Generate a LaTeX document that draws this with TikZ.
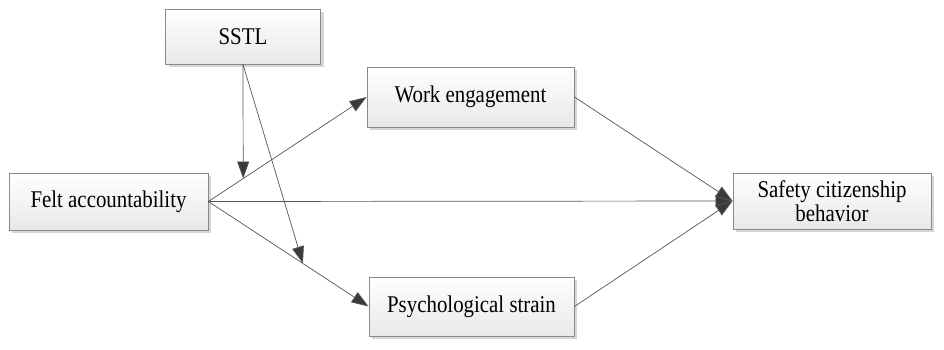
\documentclass[tikz,border=0pt]{standalone}
\usepackage{fontspec}
\setmainfont{Liberation Serif}
\usetikzlibrary{arrows.meta,calc,shadows}
\definecolor{linec}{HTML}{555555}
\definecolor{tipc}{HTML}{3A3A3A}
\definecolor{boxline}{HTML}{8A8A8A}
\definecolor{shadowc}{HTML}{D6D6D6}
\newcommand{\cond}[1]{\scalebox{0.87}[1]{#1}}
\begin{document}
\begin{tikzpicture}[x=1pt,y=-1pt,
  box/.style={draw=boxline,line width=0.8pt,top color=white,bottom color=black!9,
    drop shadow={shadow xshift=3pt,shadow yshift=-3pt,fill=shadowc,opacity=1},
    font=\fontsize{24}{25}\selectfont,align=center,inner sep=0pt},
  conn/.style={draw=linec,line width=0.7pt,-{Triangle[length=17pt,width=12pt,fill=tipc]}}]
\useasboundingbox (0,0) rectangle (944,349);
\node[box,minimum width=155pt,minimum height=55pt] (sstl) at (243,36.5) {\cond{SSTL}};
\node[box,minimum width=199pt,minimum height=57pt] (fa) at (108.5,201.5) {\cond{Felt accountability}};
\node[box,minimum width=207pt,minimum height=60pt] (we) at (470.5,97) {\cond{Work engagement}};
\node[box,minimum width=205pt,minimum height=59pt] (ps) at (471.5,306.5) {\cond{Psychological strain}};
\node[box,minimum width=198pt,minimum height=56pt] (scb) at (832,201) {\cond{Safety citizenship}\\[-1pt]\cond{behavior}};
\coordinate (m1) at ($(fa.east)!0.22!(we.west)$);
\coordinate (m2) at ($(fa.east)!0.59!(ps.west)$);
\draw[conn] (fa.east) -- (we.west);
\draw[conn] (fa.east) -- (ps.west);
\draw[conn] (fa.east) -- (scb.west);
\draw[conn] (we.east) -- (scb.west);
\draw[conn] (ps.east) -- (scb.west);
\draw[conn] (sstl.south) -- (m1);
\draw[conn] (sstl.south) -- (m2);
\end{tikzpicture}
\end{document}
